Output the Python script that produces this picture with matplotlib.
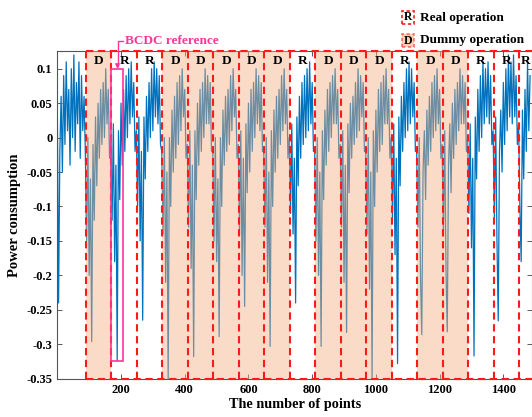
import numpy as np
import matplotlib
matplotlib.use('Agg')
from matplotlib import pyplot as plt
from matplotlib.patches import Rectangle

plt.rcParams['font.family'] = ['Liberation Serif', 'DejaVu Serif']
plt.rcParams['font.weight'] = 'bold'

# power trace, one value every 4 points
step = 4
lead_in = [0.05, -0.24, -0.02, 0.06, -0.05, 0.09, -0.01, 0.11, 0.01, 0.07, -0.04,
           0.1, 0.0, 0.12, -0.02, 0.08, 0.02, 0.11, -0.03, 0.09, 0.01, 0.06]
seg_090 = [-0.02, -0.15, 0.0, -0.2, -0.06, -0.296, -0.01, -0.12, 0.03, -0.07, 0.05, -0.03, 0.07, -0.01, 0.08, 0.0, 0.1, 0.02, 0.07, -0.03]
seg_170 = [0.0, -0.12, 0.02, -0.18, -0.04, -0.324, 0.01, -0.09, 0.05, -0.04, 0.07, -0.02, 0.09, 0.0, 0.1, 0.02, 0.11, 0.03, 0.08, -0.02]
seg_250 = [0.01, -0.1, 0.03, -0.15, -0.02, -0.265, 0.03, -0.06, 0.06, -0.02, 0.08, 0.0, 0.1, 0.01, 0.11, 0.03, 0.1, 0.02, 0.09, -0.01]
seg_330 = [-0.02, -0.14, 0.0, -0.21, -0.05, -0.35, 0.0, -0.1, 0.04, -0.05, 0.06, -0.03, 0.08, -0.01, 0.09, 0.01, 0.1, 0.03, 0.07, -0.03]
seg_410 = [-0.01, -0.13, 0.01, -0.19, -0.04, -0.318, 0.01, -0.09, 0.05, -0.04, 0.07, -0.02, 0.08, 0.0, 0.1, 0.02, 0.09, 0.02, 0.08, -0.02]
seg_490 = [-0.02, -0.15, 0.0, -0.18, -0.06, -0.289, 0.0, -0.1, 0.04, -0.04, 0.06, -0.02, 0.07, -0.01, 0.09, 0.01, 0.1, 0.03, 0.07, -0.03]
seg_570 = [-0.01, -0.14, 0.01, -0.2, -0.03, -0.245, 0.02, -0.08, 0.05, -0.05, 0.07, -0.02, 0.08, 0.0, 0.1, 0.02, 0.09, 0.01, 0.08, -0.02]
seg_650 = [-0.02, -0.13, 0.0, -0.21, -0.05, -0.303, 0.01, -0.1, 0.04, -0.05, 0.06, -0.03, 0.07, -0.01, 0.09, 0.01, 0.1, 0.02, 0.07, -0.03]
seg_730 = [0.0, -0.11, 0.02, -0.14, -0.03, -0.24, 0.03, -0.07, 0.06, -0.03, 0.08, -0.01, 0.09, 0.0, 0.1, 0.01, 0.11, 0.02, 0.08, -0.02]
seg_810 = [-0.02, -0.15, 0.0, -0.2, -0.05, -0.303, 0.01, -0.09, 0.04, -0.04, 0.07, -0.02, 0.08, 0.0, 0.09, 0.02, 0.1, 0.02, 0.07, -0.03]
seg_890 = [-0.01, -0.13, 0.01, -0.21, -0.04, -0.283, 0.02, -0.08, 0.05, -0.03, 0.06, -0.01, 0.08, 0.0, 0.1, 0.01, 0.09, 0.03, 0.08, -0.02]
seg_970 = [-0.02, -0.14, 0.0, -0.22, -0.05, -0.35, 0.01, -0.1, 0.04, -0.05, 0.07, -0.02, 0.08, -0.01, 0.09, 0.02, 0.1, 0.02, 0.07, -0.03]
seg_1050 = [0.0, -0.12, 0.02, -0.17, -0.03, -0.328, 0.03, -0.07, 0.06, -0.02, 0.08, 0.0, 0.1, 0.01, 0.11, 0.02, 0.1, 0.03, 0.08, -0.02]
seg_1130 = [-0.02, -0.13, 0.0, -0.2, -0.286, -0.05, 0.01, -0.09, 0.04, -0.04, 0.06, -0.02, 0.08, 0.0, 0.09, 0.01, 0.1, 0.02, 0.07, -0.03]
seg_1210 = [-0.01, -0.14, 0.01, -0.19, -0.282, -0.04, 0.02, -0.08, 0.05, -0.03, 0.07, -0.01, 0.08, 0.01, 0.1, 0.02, 0.09, 0.02, 0.08, -0.02]
seg_1290 = [0.0, -0.11, 0.02, -0.16, -0.03, -0.317, 0.03, -0.06, 0.07, -0.02, 0.09, 0.0, 0.11, 0.02, 0.1, 0.03, 0.11, 0.02, 0.09, -0.01]
seg_1370 = [0.01, -0.12, 0.03, -0.15, -0.266, -0.02, 0.04, -0.05, 0.08, -0.01, 0.1, 0.01, 0.12, 0.03, 0.11, 0.02, 0.12, 0.03, 0.09, -0.01]
tail = [0.02, -0.1, -0.18, 0.04, -0.06, 0.07, -0.02, 0.11, 0.01, 0.09]

power = (lead_in + seg_090 + seg_170 + seg_250 + seg_330 + seg_410 + seg_490
         + seg_570 + seg_650 + seg_730 + seg_810 + seg_890 + seg_970
         + seg_1050 + seg_1130 + seg_1210 + seg_1290 + seg_1370 + tail)

seg_starts = [90, 170, 250, 330, 410, 490, 570, 650, 730, 810, 890, 970,
              1050, 1130, 1210, 1290, 1370, 1450]
seg_labels = ['D', 'R', 'R', 'D', 'D', 'D', 'D', 'D', 'R', 'D', 'D', 'D',
              'R', 'D', 'D', 'R', 'R', 'R']
seg_width = 80

bcdc_x = [170, 207]
bcdc_y = [-0.325, 0.1]

yticks = [-0.35, -0.3, -0.25, -0.2, -0.15, -0.1, -0.05, 0, 0.05, 0.1]
ytick_labels = ['-0.35', '-0.3', '-0.25', '-0.2', '-0.15', '-0.1', '-0.05', '0', '0.05', '0.1']
xticks = [200, 400, 600, 800, 1000, 1200, 1400]

blue = '#0072BD'
peach = '#F4B183'
red = '#FF1A1A'
pink = '#FF3399'
dash = (0, (3.5, 2.2))

fig = plt.figure(figsize=(5.32, 4.17), dpi=100)
ax = fig.add_axes([0.1077, 0.0918, 0.8923, 0.7847])

x = np.arange(len(power)) * step
ax.plot(x, power, color=blue, lw=0.9, zorder=2)

ylo, yhi = -0.35, 0.125
xmax = 1490
for s, lab in zip(seg_starts, seg_labels):
    if lab == 'D':
        ax.axvspan(s, s + seg_width, color=peach, alpha=0.45, lw=0, zorder=3)
    ax.axvline(s, color=red, lw=1.5, ls=dash, zorder=5)
    xc = min(s + seg_width / 2, (s + xmax) / 2)
    ax.text(xc, 0.111, lab, ha='center', va='center',
            fontsize=9.5, fontweight='bold', zorder=6)
# top and bottom edges of the boxes
for yy in (ylo, yhi):
    ax.plot([seg_starts[0], xmax], [yy, yy], color=red, lw=1.5, ls=dash,
            zorder=5, clip_on=False)

# BCDC reference box
ax.add_patch(Rectangle((bcdc_x[0], bcdc_y[0]), bcdc_x[1] - bcdc_x[0],
                       bcdc_y[1] - bcdc_y[0], fill=False, edgecolor=pink,
                       lw=1.2, zorder=6))
ax.plot([189, 189, 206], [0.104, 0.14, 0.14], color=pink, lw=1, clip_on=False, zorder=6)
ax.annotate('', xy=(189, 0.1), xytext=(189, 0.108),
            arrowprops=dict(arrowstyle='-|>', color=pink, lw=1, mutation_scale=6))
ax.text(212, 0.1405, 'BCDC reference', color=pink, fontsize=9.5,
        fontweight='bold', va='center', ha='left')

ax.set_xlim(0, xmax)
ax.set_ylim(ylo, yhi)
ax.set_xticks(xticks)
ax.set_yticks(yticks)
ax.set_yticklabels(ytick_labels)
ax.tick_params(direction='in', top=True, right=True, length=3.5, width=0.6,
               color='#404040', labelsize=9)
for sp in ax.spines.values():
    sp.set_color('#555555')
    sp.set_linewidth(0.8)
ax.set_xlabel('The number of points', fontsize=10.3, fontweight='bold', labelpad=2)
ax.set_ylabel('Power consumption', fontsize=10.5, fontweight='bold', labelpad=4)

# legend at top right
W, H = 532, 417
def px(xp, yp):
    return xp / W, 1 - yp / H

for (yc, lab, txt, fc) in [(17.5, 'R', 'Real operation', 'white'),
                           (40.5, 'D', 'Dummy operation', peach)]:
    bx, by = px(401.5, yc + 6)
    fig.patches.append(Rectangle((bx, by), 12.5 / W, 12 / H, transform=fig.transFigure,
                                 facecolor=fc, alpha=1 if fc == 'white' else 0.6,
                                 edgecolor=red, lw=1.2, ls=(0, (2, 1.5))))
    tx, ty = px(407.7, yc)
    fig.text(tx, ty, lab, ha='center', va='center', fontsize=8.5, fontweight='bold')
    tx, ty = px(420, yc)
    fig.text(tx, ty, txt, ha='left', va='center', fontsize=9.5, fontweight='bold')

fig.savefig('out.png', dpi=100)
